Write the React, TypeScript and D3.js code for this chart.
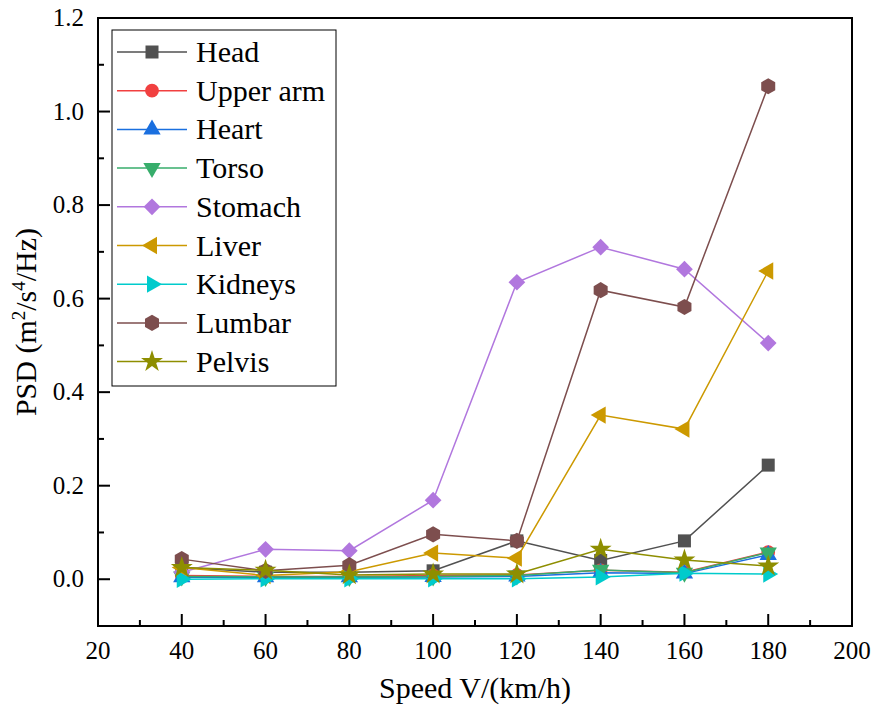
import React from "react";
import * as d3 from "d3";

// speeds (km/h)
const speeds = [40, 60, 80, 100, 120, 140, 160, 180];

// PSD values per body part
const head = [0.025, 0.015, 0.015, 0.018, 0.082, 0.04, 0.082, 0.244];
const upperArm = [0.008, 0.006, 0.006, 0.008, 0.009, 0.019, 0.015, 0.058];
const heart = [0.004, 0.004, 0.004, 0.005, 0.006, 0.014, 0.012, 0.052];
const torso = [0.006, 0.005, 0.005, 0.006, 0.008, 0.02, 0.014, 0.057];
const stomach = [0.015, 0.064, 0.061, 0.169, 0.635, 0.71, 0.663, 0.505];
const liver = [0.025, 0.008, 0.016, 0.056, 0.045, 0.351, 0.321, 0.659];
const kidneys = [0.0, 0.001, 0.001, 0.001, 0.001, 0.005, 0.013, 0.011];
const lumbar = [0.043, 0.018, 0.03, 0.096, 0.082, 0.618, 0.582, 1.054];
const pelvis = [0.025, 0.019, 0.009, 0.011, 0.011, 0.064, 0.041, 0.028];

const seriesNames = ["Head", "Upper arm", "Heart", "Torso", "Stomach", "Liver", "Kidneys", "Lumbar", "Pelvis"];
const seriesValues = [head, upperArm, heart, torso, stomach, liver, kidneys, lumbar, pelvis];
const colors = ["#515151", "#F14040", "#1A6FDF", "#37AD6B", "#B177DE", "#CC9900", "#00CBCC", "#7D4E4E", "#8E8E00"];

const xTicks = [20, 40, 60, 80, 100, 120, 140, 160, 180, 200];
const xMinorTicks = [30, 50, 70, 90, 110, 130, 150, 170, 190];
const yTicks = [0.0, 0.2, 0.4, 0.6, 0.8, 1.0, 1.2];
const yMinorTicks = [-0.1, 0.1, 0.3, 0.5, 0.7, 0.9, 1.1];

// pointy-top hexagon
const symbolHexagon = {
  draw(context: any, size: number) {
    const r = Math.sqrt((2 * size) / (3 * Math.sqrt(3)));
    for (let i = 0; i < 6; i++) {
      const a = (Math.PI / 3) * i - Math.PI / 2;
      const px = r * Math.cos(a);
      const py = r * Math.sin(a);
      if (i === 0) context.moveTo(px, py);
      else context.lineTo(px, py);
    }
    context.closePath();
  },
};

// symbol type, size, rotation for each series
const markers: [any, number, number][] = [
  [d3.symbolSquare, 169, 0],
  [d3.symbolCircle, 150, 0],
  [d3.symbolTriangle, 130, 0],
  [d3.symbolTriangle, 130, 180],
  [d3.symbolSquare, 140, 45],
  [d3.symbolTriangle, 130, -90],
  [d3.symbolTriangle, 130, 90],
  [symbolHexagon, 170, 0],
  [d3.symbolStar, 150, 0],
];

const FONT = "Liberation Serif";

const left = 98, right = 852, top = 18, bottom = 626;
const x = d3.scaleLinear().domain([20, 200]).range([left, right]);
const y = d3.scaleLinear().domain([-0.1, 1.2]).range([bottom, top]);

const line = d3.line<number>()
  .x((d, i) => x(speeds[i]))
  .y(d => y(d));

export default function App() {
  return (
    <svg
      width={876}
      height={718}
      style={{ position: "absolute", left: 0, top: 0, background: "#fff" }}
    >
      {/* series */}
      {seriesValues.map((vals, s) => {
        const [type, size, rot] = markers[s];
        const sym = d3.symbol().type(type).size(size)() as string;
        return (
          <g key={seriesNames[s]}>
            <path d={line(vals) as string} fill="none" stroke={colors[s]} strokeWidth={1.5} />
            {vals.map((v, i) => (
              <path key={i} d={sym} fill={colors[s]}
                transform={`translate(${x(speeds[i])},${y(v)}) rotate(${rot})`} />
            ))}
          </g>
        );
      })}

      {/* frame */}
      <rect x={left} y={top} width={right - left} height={bottom - top}
        fill="none" stroke="#000" strokeWidth={2} />

      {/* x ticks, inward */}
      {xTicks.map(t => (
        <g key={"x" + t}>
          <line x1={x(t)} x2={x(t)} y1={bottom} y2={bottom - 12} stroke="#000" strokeWidth={2} />
          <text x={x(t)} y={659} textAnchor="middle" style={{ fontFamily: FONT, fontSize: 25 }}>{t}</text>
        </g>
      ))}
      {xMinorTicks.map(t => (
        <line key={"xm" + t} x1={x(t)} x2={x(t)} y1={bottom} y2={bottom - 6} stroke="#000" strokeWidth={2} />
      ))}

      {/* y ticks, inward */}
      {yTicks.map(t => (
        <g key={"y" + t}>
          <line x1={left} x2={left + 12} y1={y(t)} y2={y(t)} stroke="#000" strokeWidth={2} />
          <text x={84} y={y(t) + 8} textAnchor="end" style={{ fontFamily: FONT, fontSize: 25 }}>{t.toFixed(1)}</text>
        </g>
      ))}
      {yMinorTicks.map(t => (
        <line key={"ym" + t} x1={left} x2={left + 6} y1={y(t)} y2={y(t)} stroke="#000" strokeWidth={2} />
      ))}

      {/* axis titles */}
      <text x={(left + right) / 2} y={698} textAnchor="middle" style={{ fontFamily: FONT, fontSize: 30 }}>
        Speed V/(km/h)
      </text>
      <text transform={`translate(36,${(top + bottom) / 2}) rotate(-90)`} textAnchor="middle"
        style={{ fontFamily: FONT, fontSize: 30 }}>
        <tspan>PSD (m</tspan>
        <tspan dy={-11} style={{ fontSize: 19 }}>2</tspan>
        <tspan dy={11}>/s</tspan>
        <tspan dy={-11} style={{ fontSize: 19 }}>4</tspan>
        <tspan dy={11}>/Hz)</tspan>
      </text>

      {/* legend */}
      <g>
        <rect x={112} y={30} width={224} height={356} fill="#fff" stroke="#000" strokeWidth={1} />
        {seriesNames.map((name, s) => {
          const [type, size, rot] = markers[s];
          const ry = 52 + s * 38.7;
          return (
            <g key={"lg" + name}>
              <line x1={117} x2={187} y1={ry} y2={ry} stroke={colors[s]} strokeWidth={1.5} />
              <path d={d3.symbol().type(type).size(size)() as string} fill={colors[s]}
                transform={`translate(152,${ry}) rotate(${rot})`} />
              <text x={196} y={ry + 10} style={{ fontFamily: FONT, fontSize: 30 }}>{name}</text>
            </g>
          );
        })}
      </g>
    </svg>
  );
}
